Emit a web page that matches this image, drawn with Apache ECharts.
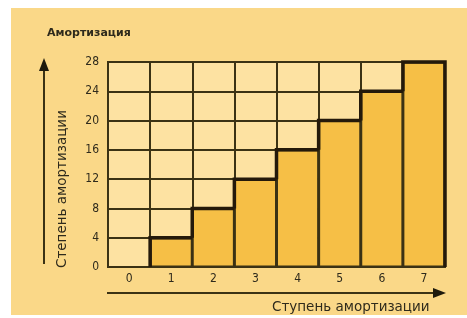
<!DOCTYPE html>
<html>
<head>
<meta charset="utf-8">
<script src="https://cdn.jsdelivr.net/npm/echarts@6/dist/echarts.min.js"></script>
<style>
  html, body { margin: 0; padding: 0; background: #fff; }
  #chart { width: 467px; height: 318px; }
</style>
</head>
<body>
<div id="chart"></div>
<script>
var categories = ['0', '1', '2', '3', '4', '5', '6', '7'];
var values = [0, 4, 8, 12, 16, 20, 24, 28];
var yTicks = { min: 0, max: 28, interval: 4 };

var titleText = 'Амортизация';
var yName = 'Степень амортизации';
var xName = 'Ступень амортизации';

var lineColor = '#3b3214';
var textColor = '#2e2a1c';
var font = "'DejaVu Sans Condensed', 'DejaVu Sans', sans-serif";
var wideFont = "'DejaVu Sans', sans-serif";

// outline data: [category index, value, previous value]
var stepData = [];
for (var i = 0; i < values.length; i++) {
    stepData.push([i, values[i], i > 0 ? values[i - 1] : 0]);
}

var chart = echarts.init(document.getElementById('chart'));

var option = {
    backgroundColor: '#ffffff',
    animation: false,
    grid: {
        left: 108, top: 62, width: 337, height: 205,
        show: true,
        backgroundColor: '#fde2a2',
        borderColor: lineColor,
        borderWidth: 2
    },
    xAxis: {
        type: 'category',
        data: categories,
        boundaryGap: true,
        axisLine: { show: true, lineStyle: { color: lineColor, width: 2 } },
        axisTick: { show: false },
        splitLine: { show: true, interval: 0, lineStyle: { color: lineColor, width: 2 } },
        axisLabel: { color: textColor, fontSize: 12, fontFamily: font, margin: 6 }
    },
    yAxis: {
        type: 'value',
        min: yTicks.min, max: yTicks.max, interval: yTicks.interval,
        axisLine: { show: false },
        axisTick: { show: false },
        splitLine: { show: true, lineStyle: { color: lineColor, width: 2 } },
        axisLabel: { color: textColor, fontSize: 12, fontFamily: font, margin: 9 }
    },
    graphic: [
        { type: 'rect', z: -10, shape: { x: 11, y: 8, width: 456, height: 307 }, style: { fill: '#fad888' } },
        { type: 'text', x: 47, y: 33,
          style: { text: titleText, fill: textColor, font: "bold 11px " + wideFont, verticalAlign: 'middle' } },
        // vertical arrow
        { type: 'line', shape: { x1: 44, y1: 68, x2: 44, y2: 264 }, style: { stroke: lineColor, lineWidth: 2 } },
        { type: 'polygon', shape: { points: [[44, 58], [39, 71], [49, 71]] }, style: { fill: '#1e1a0c' } },
        // horizontal arrow
        { type: 'line', shape: { x1: 107, y1: 293, x2: 436, y2: 293 }, style: { stroke: lineColor, lineWidth: 2 } },
        { type: 'polygon', shape: { points: [[446, 293], [433, 288], [433, 298]] }, style: { fill: '#1e1a0c' } },
        { type: 'text', x: 62, y: 268, rotation: Math.PI / 2,
          style: { text: yName, fill: textColor, font: "13.5px " + wideFont, align: 'left', verticalAlign: 'middle' } },
        { type: 'text', x: 272, y: 307,
          style: { text: xName, fill: textColor, font: "13.5px " + wideFont, align: 'left', verticalAlign: 'middle' } }
    ],
    series: [
        {
            type: 'bar',
            data: values,
            barWidth: '100%',
            barCategoryGap: 0,
            itemStyle: { color: '#f6bf46', borderColor: lineColor, borderWidth: 1.5 },
            z: 2
        },
        {
            type: 'custom',
            data: stepData,
            z: 3,
            renderItem: function (params, api) {
                var idx = api.value(0);
                if (api.value(1) === 0) {
                    return null;
                }
                var top = api.coord([idx, api.value(1)]);
                var base = api.coord([idx, api.value(2)]);
                var w = api.size([1, 0])[0];
                var l = top[0] - w / 2, r = top[0] + w / 2;
                var pts = [[l, base[1]], [l, top[1]], [r, top[1]]];
                if (idx === values.length - 1) {
                    pts.push([r, api.coord([idx, 0])[1]]);
                }
                return {
                    type: 'polyline',
                    shape: { points: pts },
                    style: { stroke: '#24190a', lineWidth: 3.5, fill: null, lineJoin: 'miter' }
                };
            }
        }
    ]
};

chart.setOption(option);
</script>
</body>
</html>
